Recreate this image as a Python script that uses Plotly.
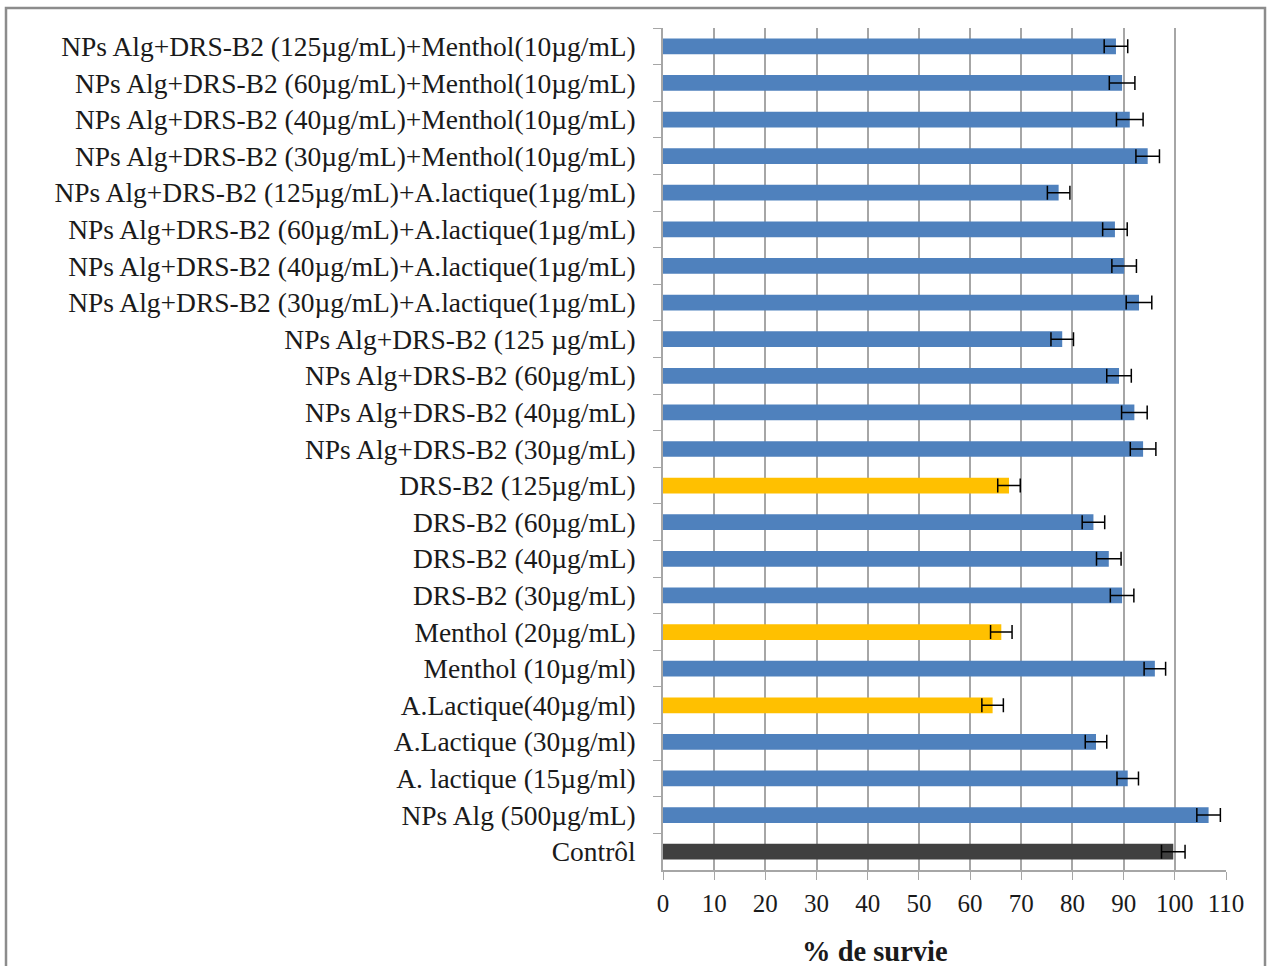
import plotly.graph_objects as go

categories = [
    "NPs Alg+DRS-B2 (125µg/mL)+Menthol(10µg/mL)",
    "NPs Alg+DRS-B2 (60µg/mL)+Menthol(10µg/mL)",
    "NPs Alg+DRS-B2 (40µg/mL)+Menthol(10µg/mL)",
    "NPs Alg+DRS-B2 (30µg/mL)+Menthol(10µg/mL)",
    "NPs Alg+DRS-B2 (125µg/mL)+A.lactique(1µg/mL)",
    "NPs Alg+DRS-B2 (60µg/mL)+A.lactique(1µg/mL)",
    "NPs Alg+DRS-B2 (40µg/mL)+A.lactique(1µg/mL)",
    "NPs Alg+DRS-B2 (30µg/mL)+A.lactique(1µg/mL)",
    "NPs Alg+DRS-B2 (125 µg/mL)",
    "NPs Alg+DRS-B2 (60µg/mL)",
    "NPs Alg+DRS-B2 (40µg/mL)",
    "NPs Alg+DRS-B2 (30µg/mL)",
    "DRS-B2 (125µg/mL)",
    "DRS-B2 (60µg/mL)",
    "DRS-B2 (40µg/mL)",
    "DRS-B2 (30µg/mL)",
    "Menthol (20µg/mL)",
    "Menthol (10µg/ml)",
    "A.Lactique(40µg/ml)",
    "A.Lactique (30µg/ml)",
    "A. lactique (15µg/ml)",
    "NPs Alg (500µg/mL)",
    "Contrôl",
]

survie = [88.5, 89.7, 91.2, 94.7, 77.3, 88.3, 90.1, 93.0, 78.0, 89.1, 92.1, 93.8,
          67.6, 84.1, 87.1, 89.7, 66.1, 96.1, 64.4, 84.6, 90.8, 106.6, 99.7]

erreur = [2.3, 2.5, 2.6, 2.3, 2.2, 2.4, 2.4, 2.5, 2.2, 2.4, 2.5, 2.5,
          2.2, 2.2, 2.4, 2.3, 2.1, 2.1, 2.1, 2.1, 2.1, 2.3, 2.3]

groupe = ["np"] * 12 + ["tox", "ok", "ok", "ok", "tox", "ok", "tox", "ok", "ok", "ok", "ctrl"]

x_ticks = list(range(0, 111, 10))

palette = {"np": "#4F81BD", "ok": "#4F81BD", "tox": "#FFC000", "ctrl": "#404040"}
colors = [palette[g] for g in groupe]

fig = go.Figure(
    go.Bar(
        y=categories,
        x=survie,
        orientation="h",
        marker=dict(color=colors, line=dict(width=0)),
        width=0.43,
        error_x=dict(type="data", array=erreur, visible=True, color="#000000",
                     thickness=1.5, width=7),
        showlegend=False,
    )
)

fig.update_layout(
    width=1268,
    height=966,
    margin=dict(l=663, r=42, t=28, b=96),
    paper_bgcolor="white",
    plot_bgcolor="white",
    font=dict(family="Liberation Serif", color="#1a1a1a"),
    xaxis=dict(
        range=[0, 110],
        tickvals=x_ticks,
        ticktext=[str(v) for v in x_ticks],
        showgrid=True,
        gridcolor="#a6a6a6",
        gridwidth=1.5,
        zeroline=False,
        showline=True,
        linecolor="#a6a6a6",
        linewidth=1.5,
        ticks="outside",
        ticklen=8,
        tickcolor="#a6a6a6",
        ticklabelstandoff=2,
        tickfont=dict(family="Liberation Serif", size=25, color="#1a1a1a"),
        fixedrange=True,
    ),
    yaxis=dict(
        autorange="reversed",
        showgrid=False,
        showline=True,
        linecolor="#a6a6a6",
        linewidth=1.5,
        ticks="outside",
        tickson="boundaries",
        ticklen=8,
        tickcolor="#a6a6a6",
        ticklabelstandoff=20,
        tickfont=dict(family="Liberation Serif", size=27.5, color="#1a1a1a"),
    ),
    annotations=[
        dict(text="<b>% de survie</b>", x=(875 - 663) / 563, y=(870 - 951) / 842,
             xref="paper", yref="paper",
             xanchor="center", yanchor="middle", showarrow=False,
             font=dict(family="Liberation Serif", size=28.5, color="#1a1a1a")),
    ],
    shapes=[
        dict(type="rect", xref="paper", yref="paper",
             x0=(6 - 663) / 563, x1=(1265 - 663) / 563,
             y0=(870 - 975) / 842, y1=(870 - 8) / 842,
             line=dict(color="#8c8c8c", width=2.5), fillcolor="rgba(0,0,0,0)", layer="below"),
    ],
)

fig.write_html("out.html", config={"displayModeBar": False},
               post_script="document.body.style.margin='0';")
